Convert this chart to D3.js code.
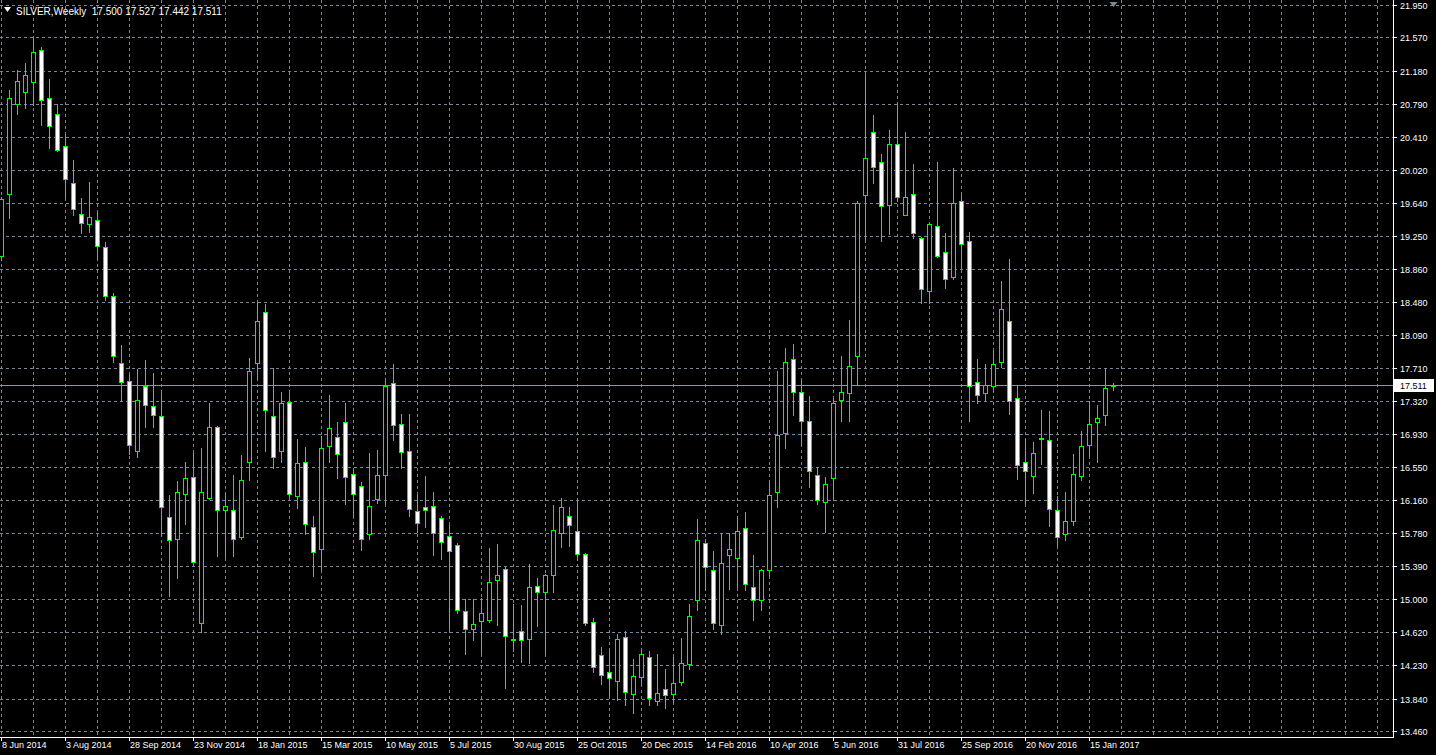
<!DOCTYPE html>
<html><head><meta charset="utf-8">
<script src="https://cdn.jsdelivr.net/npm/d3@7"></script>
<style>html,body{margin:0;padding:0;background:#000;overflow:hidden}svg{display:block}</style>
</head><body><svg id="c" width="1436" height="755"></svg>
<script>
const symbolTitle = "SILVER,Weekly";
const dateLabels = ["8 Jun 2014","3 Aug 2014","28 Sep 2014","23 Nov 2014","18 Jan 2015","15 Mar 2015","10 May 2015","5 Jul 2015","30 Aug 2015","25 Oct 2015","20 Dec 2015","14 Feb 2016","10 Apr 2016","5 Jun 2016","31 Jul 2016","25 Sep 2016","20 Nov 2016","15 Jan 2017"];
const priceTicks = ["21.950","21.570","21.180","20.790","20.410","20.020","19.640","19.250","18.860","18.480","18.090","17.710","17.320","16.930","16.550","16.160","15.780","15.390","15.000","14.620","14.230","13.840","13.460"];

const open = [19.01,19.74,20.79,20.93,21.05,21.42,20.86,20.68,20.30,19.87,19.51,19.39,19.43,19.12,18.55,17.76,17.55,16.74,17.50,17.26,
17.14,15.96,15.70,16.23,16.43,14.72,16.19,17.01,16.05,16.04,15.73,16.61,17.76,18.36,17.14,16.74,17.31,16.21,16.60,15.85,
15.59,16.79,16.90,17.07,16.46,16.32,15.76,16.17,16.45,17.53,17.05,16.73,16.03,16.08,16.09,15.95,15.74,15.63,14.86,14.65,
14.75,14.76,15.22,15.35,14.54,14.63,14.54,15.16,15.09,15.29,15.78,15.98,15.80,15.53,14.74,14.35,14.15,14.04,14.56,13.89,
14.09,14.33,13.81,13.95,13.89,14.03,14.24,14.99,15.66,15.34,14.70,15.52,15.48,15.83,15.14,14.99,15.34,16.25,16.94,17.81,
17.42,17.09,16.45,16.14,16.42,17.33,17.41,17.85,19.73,20.46,20.11,19.61,20.33,19.49,19.74,19.23,18.61,19.37,19.06,18.77,
19.66,19.19,17.54,17.41,17.50,17.77,18.25,17.35,16.60,16.44,16.88,16.86,16.05,15.76,15.92,16.44,16.80,17.07,17.15,17.500];
const high = [19.70,20.96,21.19,21.27,21.56,21.46,21.08,20.79,20.44,20.14,19.69,19.88,19.53,19.18,18.58,17.97,17.62,17.69,17.80,17.65,
17.41,16.22,16.38,16.61,16.71,16.77,17.29,17.03,16.24,16.45,16.69,17.82,18.47,18.45,17.71,17.42,17.41,16.88,16.78,15.98,
16.91,17.39,17.07,17.30,16.51,16.37,16.71,16.75,17.57,17.75,17.17,17.17,16.22,16.44,16.26,15.97,15.87,15.66,15.00,15.00,
15.02,15.60,15.65,15.38,14.95,14.93,15.41,15.25,15.30,16.10,16.19,16.08,16.16,15.54,14.78,14.44,14.39,14.60,14.63,14.30,
14.39,14.40,14.36,14.19,14.33,14.55,14.95,15.94,15.70,15.57,15.77,15.77,15.97,16.02,15.52,15.36,16.36,17.67,17.94,17.99,
17.57,17.38,16.55,16.43,17.35,17.85,18.27,19.66,21.13,20.66,20.21,20.49,20.78,20.47,20.09,19.24,19.40,20.11,19.28,20.04,
19.73,19.30,17.81,17.75,17.90,18.72,18.98,17.49,16.87,16.84,17.21,17.20,16.21,16.26,16.70,16.97,17.32,17.27,17.71,17.527];
const low = [18.97,19.46,20.68,20.74,20.78,20.55,20.28,20.24,19.70,19.49,19.28,19.30,18.98,18.50,17.77,17.32,16.70,16.66,17.01,17.02,
15.74,15.04,15.25,15.88,15.42,14.62,16.17,15.51,15.49,15.51,15.70,16.40,17.58,16.73,16.54,16.61,16.18,16.07,15.76,15.27,
15.36,16.61,16.42,16.11,15.98,15.58,15.71,16.13,16.12,16.86,16.53,15.97,15.79,15.84,15.52,15.47,14.65,14.84,14.36,14.52,
14.36,14.73,14.70,13.96,14.39,14.27,14.26,14.69,14.36,15.09,15.61,15.62,15.46,14.70,14.15,14.01,13.87,13.82,13.76,13.67,
14.02,13.76,13.76,13.73,13.80,14.00,14.18,14.87,15.11,14.65,14.59,15.12,15.14,15.11,14.76,14.87,15.27,16.08,16.77,17.15,
16.81,16.31,16.11,15.79,16.19,17.08,17.09,17.51,19.19,19.87,19.19,19.27,19.66,19.49,19.22,18.46,18.47,19.00,18.64,18.75,
18.87,17.08,17.29,17.32,17.44,17.72,17.17,16.41,16.13,16.24,16.58,15.86,15.64,15.69,15.87,16.40,16.68,16.61,17.04,17.442];
const close = [19.68,20.86,21.06,21.13,21.40,20.84,20.54,20.26,19.91,19.56,19.40,19.47,19.13,18.55,17.85,17.54,16.81,17.33,17.27,17.16,
16.08,15.69,16.26,16.42,15.44,16.26,17.02,16.04,16.09,15.70,16.40,17.67,18.25,17.21,16.67,17.30,16.23,16.59,15.88,15.55,
16.77,17.00,16.70,16.43,16.23,15.71,16.09,16.45,17.50,17.04,16.72,16.06,15.89,16.05,15.77,15.67,15.57,14.87,14.65,14.71,
14.84,15.20,15.29,14.57,14.52,14.53,15.14,15.09,15.28,15.81,16.08,15.87,15.53,14.72,14.21,14.11,14.08,14.54,13.92,14.10,
14.36,13.85,13.91,13.88,14.02,14.25,14.81,15.69,15.38,14.72,15.43,15.59,15.80,15.18,14.99,15.34,16.22,16.92,17.78,17.43,
17.09,16.50,16.16,16.35,17.29,17.42,17.73,19.63,20.16,20.05,19.60,20.33,19.70,19.70,19.28,18.63,19.39,19.01,18.75,19.64,
19.15,17.50,17.39,17.51,17.75,18.39,17.32,16.57,16.50,16.71,16.89,16.06,15.73,15.91,16.46,16.79,17.05,17.12,17.47,17.511];

const W = 1436, H = 755, plotR = 1393, plotB = 737;
const FONT = "'Liberation Sans', Arial, sans-serif";
const GRID = "#778899", BULL = "#00ff00";

const svg = d3.select("#c");
svg.append("rect").attr("width", W).attr("height", H).attr("fill", "#000");

const n = close.length;
const x = d3.scaleLinear().domain([0, n - 1]).range([1, 1 + 8 * (n - 1)]);
const y = d3.scaleLinear().domain([13.460, 21.950]).range([731, 5]);
const py = v => Math.round(y(v)) + 0.5;
const px = i => Math.round(x(i)) + 0.5;

svg.append("defs").append("clipPath").attr("id", "clip")
  .append("rect").attr("x", 0).attr("y", 0).attr("width", plotR).attr("height", plotB);

const plot = svg.append("g").attr("clip-path", "url(#clip)");

// horizontal grid
plot.selectAll("line.hg").data(priceTicks).join("line")
  .attr("x1", 0).attr("x2", plotR).attr("y1", d => py(+d)).attr("y2", d => py(+d))
  .attr("stroke", GRID).attr("stroke-width", 1).attr("stroke-dasharray", "3,3");

// vertical grid every 4 bars
const vIdx = d3.range(0, Math.ceil(x.invert(plotR)) + 1, 4);
plot.selectAll("line.vg").data(vIdx).join("line")
  .attr("x1", d => px(d)).attr("x2", d => px(d)).attr("y1", 0).attr("y2", plotB)
  .attr("stroke", GRID).attr("stroke-width", 1).attr("stroke-dasharray", "3,3");

// current price line
const last = close[n - 1];
plot.append("line").attr("x1", 0).attr("x2", plotR).attr("y1", py(last)).attr("y2", py(last))
  .attr("stroke", "#8a949e").attr("stroke-width", 1);

// candles
const idx = d3.range(n);
const cg = plot.selectAll("g.c").data(idx).join("g");
cg.append("line")
  .attr("x1", i => px(i)).attr("x2", i => px(i))
  .attr("y1", i => Math.round(y(high[i]))).attr("y2", i => Math.round(y(low[i])) + 1)
  .attr("stroke", BULL).attr("stroke-width", 1);
cg.append("rect")
  .attr("x", i => px(i) - 2).attr("width", 4)
  .attr("y", i => py(Math.max(open[i], close[i])))
  .attr("height", i => Math.max(0, py(Math.min(open[i], close[i])) - py(Math.max(open[i], close[i]))))
  .attr("fill", i => close[i] >= open[i] ? "#000" : "#fff")
  .attr("stroke", BULL).attr("stroke-width", 1);

// axes lines
svg.append("line").attr("x1", plotR + 0.5).attr("x2", plotR + 0.5).attr("y1", 0).attr("y2", plotB + 1)
  .attr("stroke", "#fff");
svg.append("line").attr("x1", 0).attr("x2", plotR + 1).attr("y1", plotB + 0.5).attr("y2", plotB + 0.5)
  .attr("stroke", "#fff");

// price labels
const ya = svg.append("g");
ya.selectAll("line").data(priceTicks).join("line")
  .attr("x1", plotR).attr("x2", plotR + 4).attr("y1", d => py(+d)).attr("y2", d => py(+d)).attr("stroke", "#fff");
ya.selectAll("text").data(priceTicks).join("text")
  .attr("x", plotR + 7).attr("y", d => py(+d)).attr("dy", "0.35em")
  .attr("fill", "#fff").attr("font-family", FONT).attr("font-size", 9).text(d => d);

// current price box
svg.append("rect").attr("x", plotR + 1).attr("y", Math.round(y(last)) - 6).attr("width", 40).attr("height", 13).attr("fill", "#fff");
svg.append("text").attr("x", plotR + 7).attr("y", py(last)).attr("dy", "0.35em")
  .attr("fill", "#000").attr("font-family", FONT).attr("font-size", 9).text(last.toFixed(3));

// date labels
const xa = svg.append("g");
xa.selectAll("line").data(dateLabels).join("line")
  .attr("x1", (d, i) => px(i * 8)).attr("x2", (d, i) => px(i * 8)).attr("y1", plotB).attr("y2", plotB + 4).attr("stroke", "#fff");
xa.selectAll("text").data(dateLabels).join("text")
  .attr("x", (d, i) => px(i * 8) + 0.5).attr("y", plotB + 8).attr("dy", "0.35em")
  .attr("fill", "#fff").attr("font-family", FONT).attr("font-size", 9).text(d => d);

// header
svg.append("path").attr("d", "M4,7 L11,7 L7.5,12 Z").attr("fill", "#fff");
svg.append("text").attr("x", 16).attr("y", 11).attr("dy", "0.35em").attr("fill", "#fff")
  .attr("xml:space", "preserve").style("white-space", "pre")
  .attr("font-family", FONT).attr("font-size", 10)
  .text(`${symbolTitle}  ${open[n-1].toFixed(3)} ${high[n-1].toFixed(3)} ${low[n-1].toFixed(3)} ${close[n-1].toFixed(3)}`);

// chart shift marker
svg.append("path").attr("d", `M${px(n-1)-4},2 L${px(n-1)+4},2 L${px(n-1)},7 Z`).attr("fill", GRID);
</script></body></html>
